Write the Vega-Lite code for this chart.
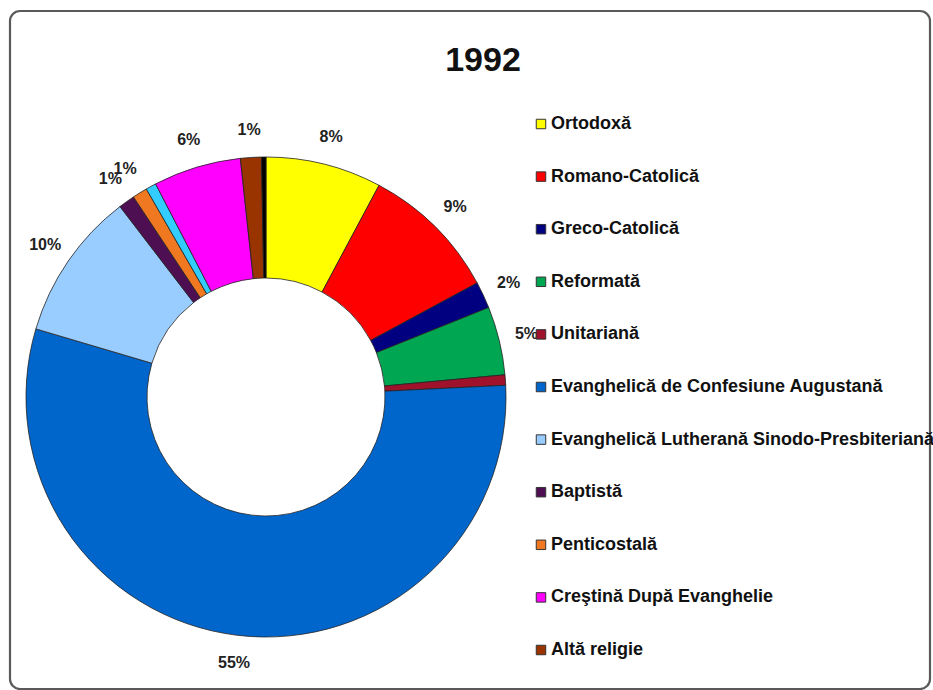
{
  "$schema": "https://vega.github.io/schema/vega-lite/v6.json",
  "width": 920,
  "height": 678,
  "autosize": {"type": "none"},
  "padding": {"left": 10, "top": 11, "right": 3, "bottom": 1},
  "background": "white",
  "config": {
    "view": {"stroke": null},
    "font": "Liberation Sans"
  },
  "title": {
    "text": "1992",
    "font": "Liberation Sans",
    "fontSize": 34,
    "fontWeight": "bold",
    "color": "#111111",
    "frame": "group",
    "anchor": "middle",
    "baseline": "alphabetic",
    "offset": -62,
    "dy": 33,
    "dx": 13
  },
  "layer": [
    {
      "data": {"values": [{"frame": "box"}]},
      "mark": {"type": "rect", "fill": null, "stroke": "#5a5a5a", "strokeWidth": 2.2, "cornerRadius": 10},
      "encoding": {}
    },
    {
      "data": {
        "values": [
          {"religie": "Ortodoxă", "pct": 7.8, "label": "8%", "ord": 1},
          {"religie": "Romano-Catolică", "pct": 9.3, "label": "9%", "ord": 2},
          {"religie": "Greco-Catolică", "pct": 1.8, "label": "2%", "ord": 3},
          {"religie": "Reformată", "pct": 4.6, "label": "5%", "ord": 4},
          {"religie": "Unitariană", "pct": 0.7, "label": "", "ord": 5},
          {"religie": "Evanghelică de Confesiune Augustană", "pct": 55.3, "label": "55%", "ord": 6},
          {"religie": "Evanghelică Lutherană Sinodo-Presbiteriană", "pct": 10.0, "label": "10%", "ord": 7},
          {"religie": "Baptistă", "pct": 1.1, "label": "1%", "ord": 8},
          {"religie": "Penticostală", "pct": 1.0, "label": "1%", "ord": 9},
          {"religie": "Adventistă", "pct": 0.7, "label": "", "ord": 10},
          {"religie": "Creştină După Evanghelie", "pct": 5.9, "label": "6%", "ord": 11},
          {"religie": "Altă religie", "pct": 1.4, "label": "1%", "ord": 12},
          {"religie": "Fără religie", "pct": 0.3, "label": "", "ord": 13}
        ]
      },
      "encoding": {
        "theta": {"field": "pct", "type": "quantitative", "stack": true},
        "order": {"field": "ord", "type": "quantitative"}
      },
      "layer": [
        {
          "mark": {"type": "arc", "radius": 240, "innerRadius": 119, "x": 256, "y": 386, "stroke": "#222222", "strokeWidth": 0.8},
          "encoding": {
            "color": {
              "field": "religie",
              "type": "nominal",
              "scale": {
                "domain": ["Ortodoxă", "Romano-Catolică", "Greco-Catolică", "Reformată", "Unitariană", "Evanghelică de Confesiune Augustană", "Evanghelică Lutherană Sinodo-Presbiteriană", "Baptistă", "Penticostală", "Adventistă", "Creştină După Evanghelie", "Altă religie", "Fără religie"],
                "range": ["#FFFF00", "#FF0000", "#000080", "#00A651", "#A0112B", "#0066CC", "#99CCFF", "#4D0F52", "#F07820", "#33CCFF", "#FF00FF", "#993300", "#000000"]
              },
              "legend": {
                "title": null,
                "orient": "none",
                "legendX": 522,
                "legendY": 104,
                "values": ["Ortodoxă", "Romano-Catolică", "Greco-Catolică", "Reformată", "Unitariană", "Evanghelică de Confesiune Augustană", "Evanghelică Lutherană Sinodo-Presbiteriană", "Baptistă", "Penticostală", "Creştină După Evanghelie", "Altă religie"],
                "symbolType": "square",
                "symbolSize": 90,
                "symbolStrokeColor": "#333333",
                "symbolStrokeWidth": 1,
                "labelFont": "Liberation Sans",
                "labelFontSize": 18,
                "labelFontWeight": "bold",
                "labelColor": "#111111",
                "labelOffset": 1,
                "labelLimit": 420,
                "rowPadding": 34.6,
                "padding": 0
              }
            }
          }
        },
        {
          "mark": {"type": "text", "radius": 268, "x": 256, "y": 386, "font": "Liberation Sans", "fontSize": 16, "fontWeight": "bold", "color": "#222222", "align": "center", "baseline": "middle"},
          "encoding": {
            "text": {"field": "label", "type": "nominal"}
          }
        }
      ]
    }
  ]
}
